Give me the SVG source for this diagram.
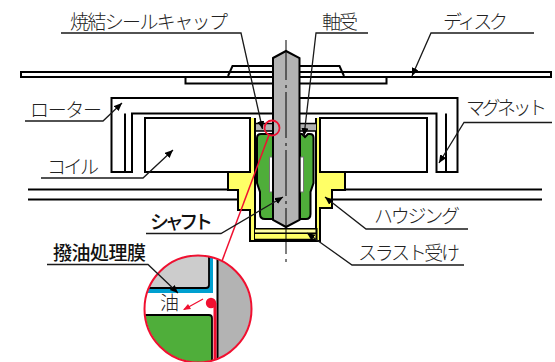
<svg xmlns="http://www.w3.org/2000/svg" width="555" height="362" viewBox="0 0 555 362">
<style>
.s{fill:none;stroke:#000;stroke-width:2;stroke-linejoin:miter}
.w{fill:#fff;stroke:#000;stroke-width:2}
.l{fill:none;stroke:#1a1a1a;stroke-width:1.300;marker-end:url(#a)}
.t{font-family:"Noto Sans CJK JP","Noto Sans",sans-serif;font-size:19px;font-weight:300;fill:#222}
.b{font-weight:500;fill:#111}
.y{fill:#ffff66}.g{fill:#4fae3a}.h{fill:#b3b3b3}
</style>
<defs>
<marker id="a" markerUnits="userSpaceOnUse" markerWidth="9" markerHeight="8" refX="8" refY="3.500" orient="auto"><path d="M0 0L8 3.500L0 7z" fill="#000"/></marker>
<clipPath id="c"><circle cx="198" cy="309" r="53"/></clipPath>
</defs>
<rect width="555" height="362" fill="#fff"/>
<g id="disk">
<path class="s" d="M273 72H21V77H273M300 72H551V77H300"/>
<path class="s" d="M228 76L232.500 66H273M300 66H339.500L344 76"/>
<path class="s" d="M273 83.500H185.500V77M300 83.500H386.500V77"/>
</g>
<g id="rotor">
<path class="s" d="M273 98H111.500V172H132V113.500H273"/>
<path class="s" d="M125 113.500V172"/>
<path class="s" d="M300 98H457.500V172H436.500V113.500H300"/>
<path class="s" d="M446 113.500V172"/>
</g>
<g id="base">
<path class="s" d="M28 189.500H228M28 199.500H238M345 189.500H542M332 199.500H542"/>
</g>
<g id="housing">
<path class="y" d="M250 118H255V229H316V118H320V172H345V190H332V208H320V241H250V210H238V190H228V172H250Z"/>
<path class="s" d="M250 118V172H228V190H238V210H250V241H320V208H332V190H345V172H320V118"/>
<path class="s" d="M255 118V241M316 118V241"/>
<rect x="255" y="229" width="62" height="10.500" fill="#ffff66"/>
<rect x="255" y="230" width="62" height="2.500" fill="#ffffa8"/>
<path d="M254 228.800H317M254 233.300H317" fill="none" stroke="#000" stroke-width="1.500"/>
<path d="M254 240H317" fill="none" stroke="#000" stroke-width="2.500"/>
<path d="M316.500 228V241" fill="none" stroke="#000" stroke-width="2"/>
</g>
<g id="coils">
<rect class="w" x="145" y="118" width="105" height="54"/>
<rect class="w" x="320" y="118" width="107" height="54"/>
</g>
<g id="seal">
<rect class="h" x="256" y="124" width="17" height="7"/>
<rect class="h" x="300" y="124" width="16" height="7"/>
<path d="M255 123.500H273M300 123.500H316M255 131H273M300 131H316" fill="none" stroke="#000" stroke-width="1.500"/>
</g>
<g id="bearing">
<path class="g" d="M273 134H261Q257 134 257 138V183L260 192V214Q260 219 265 219H273Z" stroke="#000" stroke-width="2"/>
<path class="g" d="M300 134H302L305 137L308 134H310Q313.500 134 313.500 138V183L310.500 192V214Q310.500 219 306 219H300Z" stroke="#000" stroke-width="2"/>
<rect x="269.500" y="157" width="3.500" height="35" fill="#fff" stroke="#777" stroke-width="1"/>
<rect x="300" y="157" width="3.500" height="35" fill="#fff" stroke="#777" stroke-width="1"/>
</g>
<g id="shaft">
<path class="h" d="M273 58L286 51L299.500 58V220L286 227L273 220Z" stroke="#000" stroke-width="2"/>
<path d="M286 40V262" fill="none" stroke="#000" stroke-width="1" stroke-dasharray="46 5 3 4" stroke-dashoffset="6"/>
</g>
<g id="detail">
<path d="M269 135L222 261" fill="none" stroke="#f01030" stroke-width="1.500"/>
<circle cx="272" cy="128" r="7.500" fill="none" stroke="#f01030" stroke-width="1.800"/>
<circle cx="198" cy="309" r="53" fill="#fff"/>
<g clip-path="url(#c)">
<rect x="140" y="250" width="73" height="43" fill="#00a0d0"/>
<path d="M140 250H209V285Q209 288 206 288H140Z" fill="#ccc" stroke="#000" stroke-width="1.800"/>
<rect x="217.500" y="250" width="40" height="115" class="h"/>
<path d="M217.500 250V365" stroke="#000" stroke-width="2" fill="none"/>
<path d="M140 315H209Q212 315 212 318V365H140Z" class="g" stroke="#000" stroke-width="1.800"/>
<path d="M215 303V365" stroke="#f01030" stroke-width="3" fill="none"/>
<circle cx="211" cy="303" r="5.200" fill="#f01030"/>
<path d="M203 299L184 309.500" stroke="#f01030" stroke-width="1.300" fill="none"/>
<path d="M183 310L191 309L188 304Z" fill="#f01030"/>
</g>
<circle cx="198" cy="309" r="53.500" fill="none" stroke="#f01030" stroke-width="2"/>
</g>
<g id="connectors">
<path class="l" d="M61 33H241L262.500 129"/>
<path class="l" d="M368 33H316L304 136"/>
<path class="l" d="M534 33H431L412 76"/>
<path class="l" d="M25 121H103L122 103"/>
<path class="l" d="M41 178H143L173 150"/>
<path class="l" d="M552 122.500H464L439 163"/>
<path class="l" d="M468 229H366L325 197"/>
<path class="l" d="M464 265H352L307 233"/>
<path class="l" d="M146 233.500H221L283 197"/>
<path class="l" d="M47 264.500H148L178 293"/>
</g>
<g id="labels">
<text class="t" x="70" y="29" textLength="158">焼結シールキャップ</text>
<text class="t" x="322" y="29" textLength="36">軸受</text>
<text class="t" x="443" y="29" textLength="65">ディスク</text>
<text class="t" x="30" y="117" textLength="72">ローター</text>
<text class="t" x="466" y="115" textLength="81">マグネット</text>
<text class="t" x="47" y="174" textLength="52">コイル</text>
<text class="t" x="374" y="223" textLength="86">ハウジング</text>
<text class="t" x="358" y="260" textLength="102">スラスト受け</text>
<text class="t b" x="150" y="229" textLength="63">シャフト</text>
<text class="t b" x="53" y="260" textLength="93">撥油処理膜</text>
<text class="t" x="160" y="310">油</text>
</g>
</svg>
